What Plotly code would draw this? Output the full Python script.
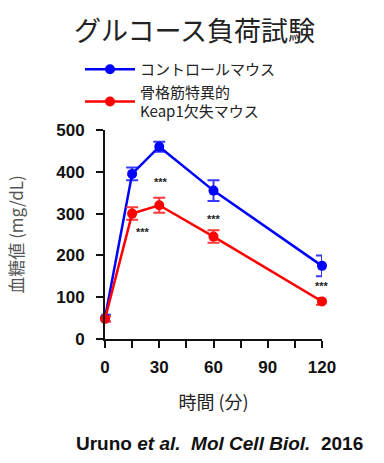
import plotly.graph_objects as go

time_min = [0, 15, 30, 60, 120]
control_vals = [50, 395, 460, 355, 175]
control_err = [8, 15, 12, 25, 25]
ko_vals = [48, 300, 320, 245, 90]
ko_err = [6, 15, 18, 15, 8]

star_x = [21, 31, 60, 120]
star_y = [255, 375, 288, 127]
star_text = ["***", "***", "***", "***"]

x_ticks = [0, 15, 30, 45, 60, 75, 90, 105, 120]
x_labels = ["0", "", "30", "", "60", "", "90", "", "120"]
y_ticks = [0, 100, 200, 300, 400, 500]

JP = "Noto Sans CJK JP, Liberation Sans, sans-serif"
NUM = "Liberation Sans, Arial, sans-serif"

L, R, T, B = 105, 322, 130, 339
W, H = 384, 463
PW, PH = R - L, B - T


def px(x):
    return (x - L) / PW


def py(y):
    return (B - y) / PH


fig = go.Figure()
fig.add_trace(go.Scatter(
    x=time_min, y=control_vals, mode="lines+markers",
    name="コントロールマウス",
    line=dict(color="#0000ff", width=2.5),
    marker=dict(color="#0000ff", size=10, symbol="circle"),
    error_y=dict(type="data", array=control_err, color="#3a3aff", thickness=2, width=6),
    cliponaxis=False,
))
fig.add_trace(go.Scatter(
    x=time_min, y=ko_vals, mode="lines+markers",
    name="骨格筋特異的<br>Keap1欠失マウス",
    line=dict(color="#ff0000", width=2.5),
    marker=dict(color="#ff0000", size=10, symbol="circle"),
    error_y=dict(type="data", array=ko_err, color="#ff3a3a", thickness=2, width=6),
    cliponaxis=False,
))

for sx, sy, st in zip(star_x, star_y, star_text):
    fig.add_annotation(x=sx, y=sy, text=st, showarrow=False,
                       font=dict(family=NUM, size=11, color="#222", weight="bold"))

fig.add_annotation(text="グルコース負荷試験", xref="paper", yref="paper",
                   x=px(194), y=py(29), xanchor="center", yanchor="middle",
                   showarrow=False, font=dict(family=JP, size=27, color="#222"))
fig.add_annotation(text="Uruno <i>et al.</i>  <i>Mol Cell Biol.</i>  2016", xref="paper", yref="paper",
                   x=px(219), y=py(443), xanchor="center", yanchor="middle",
                   showarrow=False, font=dict(family=NUM, size=19, color="#111", weight="bold"))

fig.update_layout(
    width=W, height=H,
    margin=dict(l=L, r=W - R, t=T, b=H - B, autoexpand=False),
    paper_bgcolor="white", plot_bgcolor="white",
    showlegend=True,
    legend=dict(x=px(80), y=py(53), xanchor="left", yanchor="top",
                font=dict(family=JP, size=15, color="#222"),
                bgcolor="rgba(0,0,0,0)", tracegroupgap=2, itemwidth=50),
    xaxis=dict(range=[0, 120], tickvals=x_ticks, ticktext=x_labels,
               ticks="outside", ticklen=7, tickwidth=2, tickcolor="#111",
               ticklabelstandoff=5,
               showline=True, linewidth=2, linecolor="#111", showgrid=False, zeroline=False,
               tickfont=dict(family=NUM, size=17, color="#111", weight="bold"),
               title=dict(text="時間 (分)", font=dict(family=JP, size=18, color="#222"), standoff=20)),
    yaxis=dict(range=[0, 500], tickvals=y_ticks,
               ticks="outside", ticklen=7, tickwidth=2, tickcolor="#111",
               ticklabelstandoff=8,
               showline=True, linewidth=2, linecolor="#111", showgrid=False, zeroline=False,
               tickfont=dict(family=NUM, size=17, color="#111", weight="bold"),
               title=dict(text="血糖値 (mg/dL)", font=dict(family=JP, size=17, color="#555"), standoff=28)),
)

fig.write_html("out.html", config={"displayModeBar": False},
               post_script="document.body.style.margin='0';")
